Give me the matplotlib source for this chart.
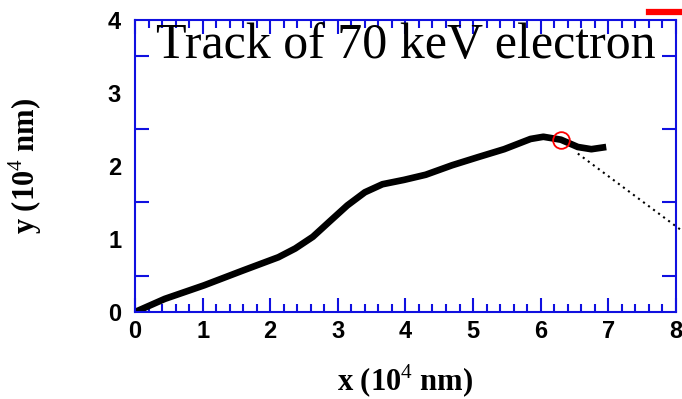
import matplotlib.pyplot as plt
from matplotlib.lines import Line2D
from matplotlib.ticker import MultipleLocator

plt.rcParams['mathtext.fontset'] = 'custom'
plt.rcParams['mathtext.rm'] = 'Liberation Serif'
plt.rcParams['mathtext.bf'] = 'Liberation Serif:bold'

# electron track (units of 10^4 nm)
track_x = [0.0, 0.44, 1.02, 1.60, 2.12, 2.37, 2.63, 2.89, 3.14, 3.40, 3.66, 3.98,
           4.30, 4.69, 5.07, 5.46, 5.85, 6.04, 6.30, 6.55, 6.75, 6.97]
track_y = [0.0, 0.18, 0.365, 0.57, 0.75, 0.87, 1.03, 1.25, 1.46, 1.64, 1.75, 1.81,
           1.88, 2.01, 2.12, 2.23, 2.37, 2.40, 2.36, 2.26, 2.23, 2.26]

# dotted projection
proj_x = [6.55, 8.08]
proj_y = [2.17, 1.12]

# red marker
mark_x = [6.30]
mark_y = [2.36]

blue = '#1010e0'

fig = plt.figure(figsize=(6.82, 3.99), dpi=100)
ax = fig.add_axes([0.198, 0.218, 0.793, 0.732])

ax.plot(track_x, track_y, color='black', lw=4.8, solid_capstyle='butt')
ax.plot(proj_x, proj_y, color='black', lw=1.5, linestyle=(0, (1, 2)), clip_on=False)
ax.plot(mark_x, mark_y, 'o', mfc='none', mec='red', ms=12, mew=1.3)

ax.set_xlim(0, 8)
ax.set_ylim(0, 4)
ax.xaxis.set_major_locator(MultipleLocator(1))
ax.xaxis.set_minor_locator(MultipleLocator(0.2))
ax.yaxis.set_major_locator(MultipleLocator(1))
ax.yaxis.set_minor_locator(MultipleLocator(0.5))
ax.tick_params(which='both', direction='in', top=True, right=True, color=blue, width=1.5)
ax.tick_params(which='major', length=10)
ax.tick_params(which='minor', length=6)
ax.tick_params(axis='y', which='minor', length=10)
ax.tick_params(axis='y', which='major', length=0)
for s in ax.spines.values():
    s.set_color(blue)
    s.set_linewidth(1.5)

for lab in ax.get_xticklabels() + ax.get_yticklabels():
    lab.set_fontfamily('Liberation Sans')
    lab.set_fontweight('bold')
    lab.set_fontsize(17)
ax.tick_params(axis='x', pad=6)
ax.tick_params(axis='y', pad=10)

ax.set_xlabel(r'x (10$^4$ nm)', family='Liberation Serif', fontweight='bold', fontsize=22, labelpad=14)
ax.set_ylabel(r'y (10$^4$ nm)', family='Liberation Serif', fontweight='bold', fontsize=22, labelpad=46)

ax.text(0.5, 0.99, 'Track of 70 keV electron', transform=ax.transAxes,
        ha='center', va='top', family='Liberation Serif', fontsize=36)

fig.add_artist(Line2D([0.952, 1.0], [0.97, 0.97], color='red', lw=4.5))

fig.savefig('out.png', dpi=100)
